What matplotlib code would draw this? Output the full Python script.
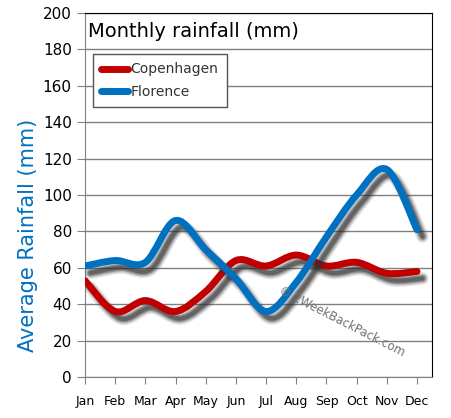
import numpy as np
import matplotlib
matplotlib.use("Agg")
import matplotlib.pyplot as plt
from matplotlib.path import Path
from matplotlib.patches import PathPatch
import matplotlib.patheffects as pe

# -----------------------------
# DATA
# -----------------------------
months = ["Jan", "Feb", "Mar", "Apr", "May", "Jun",
          "Jul", "Aug", "Sep", "Oct", "Nov", "Dec"]
copenhagen = [53, 36, 42, 36, 47, 64, 61, 67, 61, 63, 57, 58]
florence = [61, 64, 63, 86, 70, 54, 36, 52, 77, 100, 114, 81]
yticks = list(range(0, 201, 20))

RED = "#C00000"
BLUE = "#0070C0"


def smooth_path(xs, ys, t=1 / 6):
    # Catmull-Rom style cubic bezier through the data points
    pts = np.column_stack([xs, ys]).astype(float)
    verts = [pts[0]]
    codes = [Path.MOVETO]
    n = len(pts)
    for i in range(n - 1):
        p0 = pts[i - 1] if i > 0 else pts[i]
        p1 = pts[i]
        p2 = pts[i + 1]
        p3 = pts[i + 2] if i + 2 < n else pts[i + 1]
        c1 = p1 + (p2 - p0) * t
        c2 = p2 - (p3 - p1) * t
        verts += [c1, c2, p2]
        codes += [Path.CURVE4] * 3
    return Path(verts, codes)


def shadow_effects():
    effs = []
    for lw, a in [(9, 0.12), (7, 0.2), (5, 0.35), (3, 0.45)]:
        effs.append(pe.Stroke(offset=(4, -5), linewidth=lw,
                              foreground="#303030", alpha=a))
    effs.append(pe.Normal())
    return effs


fig = plt.figure(figsize=(4.52, 4.18), dpi=100)
ax = fig.add_axes([0.188, 0.098, 0.768, 0.871])

x = np.arange(len(months))
ax.set_xlim(0, 11.5)
ax.set_ylim(0, 200)
ax.set_yticks(yticks)
ax.yaxis.grid(True, color="#808080", linewidth=1)
ax.set_axisbelow(True)

for vals, col in [(copenhagen, RED), (florence, BLUE)]:
    patch = PathPatch(smooth_path(x, vals), facecolor="none", edgecolor=col,
                      linewidth=5, capstyle="round", joinstyle="round",
                      zorder=3)
    patch.set_path_effects(shadow_effects())
    ax.add_patch(patch)

# legend handles
h1, = ax.plot([], [], color=RED, lw=5, solid_capstyle="round", label="Copenhagen")
h2, = ax.plot([], [], color=BLUE, lw=5, solid_capstyle="round", label="Florence")
leg = ax.legend(handles=[h1, h2], loc="upper left", bbox_to_anchor=(0.023, 0.887),
                borderaxespad=0, fontsize=10, handlelength=1.9, handletextpad=0.2,
                borderpad=0.6, labelspacing=0.6, fancybox=False,
                edgecolor="#555555", framealpha=1)
leg.get_frame().set_linewidth(1)
for t in leg.get_texts():
    t.set_color("#333333")

ax.text(0.01, 0.975, "Monthly rainfall (mm)", transform=ax.transAxes,
        fontsize=14, va="top", ha="left", color="black")

ax.text(0.56, 0.24, "© 2WeekBackPack.com", transform=ax.transAxes,
        fontsize=8.5, rotation=-27, rotation_mode="anchor", color="#707070",
        ha="left", va="center", zorder=4)

ax.set_xticks(x)
ax.set_xticklabels(months, fontsize=9)
ax.tick_params(axis="y", labelsize=11, length=6, color="#808080")
ax.tick_params(axis="x", length=5, color="#808080", pad=8)
ax.set_ylabel("Average Rainfall (mm)", fontsize=15, color=BLUE)
ax.yaxis.set_label_coords(-0.135, 0.39)

for s in ["left", "bottom"]:
    ax.spines[s].set_color("#808080")
for s in ["top", "right"]:
    ax.spines[s].set_color("black")

fig.savefig("out.png", dpi=100)
